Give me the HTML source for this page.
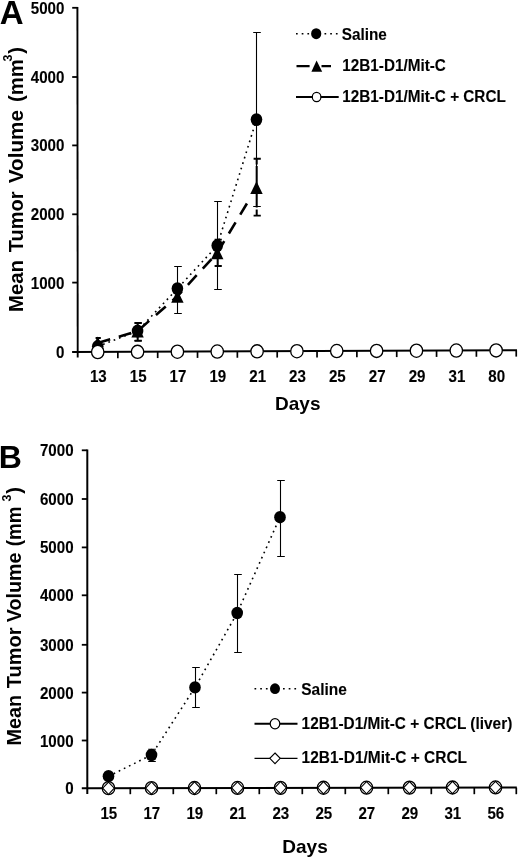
<!DOCTYPE html>
<html lang="en"><head><meta charset="utf-8"><title>Figure</title>
<style>html,body{margin:0;padding:0;background:#fff;}body{width:520px;height:858px;overflow:hidden;}svg{display:block;}text{font-family:"Liberation Sans", Arial, Helvetica, sans-serif;font-weight:bold;fill:#000;}</style>
</head><body>
<svg width="520" height="858" viewBox="0 0 520 858">
<defs><filter id="soft" x="0" y="0" width="520" height="858" filterUnits="userSpaceOnUse"><feGaussianBlur stdDeviation="0.32"/></filter></defs>
<rect width="520" height="858" fill="#fff"/>
<g filter="url(#soft)">
<!-- panel A -->
<text x="-0.3" y="23.6" font-size="33">A</text>
<line x1="77.4" y1="6.9" x2="77.7" y2="357.5" stroke="#000" stroke-width="1.9"/>
<line x1="72.1" y1="352.1" x2="517" y2="350.3" stroke="#000" stroke-width="2"/>
<text transform="translate(64.4,358) scale(0.89,1)" font-size="17.0" text-anchor="end" stroke="#000" stroke-width="0.12">0</text>
<line x1="72.2" y1="282.6" x2="77.7" y2="282.6" stroke="#000" stroke-width="1.8"/>
<text transform="translate(64.4,288.6) scale(0.89,1)" font-size="17.0" text-anchor="end" stroke="#000" stroke-width="0.12">1000</text>
<line x1="72.2" y1="214.3" x2="77.7" y2="214.3" stroke="#000" stroke-width="1.8"/>
<text transform="translate(64.4,220.3) scale(0.89,1)" font-size="17.0" text-anchor="end" stroke="#000" stroke-width="0.12">2000</text>
<line x1="72.2" y1="145.4" x2="77.7" y2="145.4" stroke="#000" stroke-width="1.8"/>
<text transform="translate(64.4,151.4) scale(0.89,1)" font-size="17.0" text-anchor="end" stroke="#000" stroke-width="0.12">3000</text>
<line x1="72.2" y1="77" x2="77.7" y2="77" stroke="#000" stroke-width="1.8"/>
<text transform="translate(64.4,83) scale(0.89,1)" font-size="17.0" text-anchor="end" stroke="#000" stroke-width="0.12">4000</text>
<line x1="72.2" y1="7.8" x2="77.7" y2="7.8" stroke="#000" stroke-width="1.8"/>
<text transform="translate(64.4,13.8) scale(0.89,1)" font-size="17.0" text-anchor="end" stroke="#000" stroke-width="0.12">5000</text>
<line x1="117.84" y1="351.94" x2="117.84" y2="358.24" stroke="#000" stroke-width="1.7"/>
<line x1="157.68" y1="351.77" x2="157.68" y2="358.07" stroke="#000" stroke-width="1.7"/>
<line x1="197.52" y1="351.61" x2="197.52" y2="357.91" stroke="#000" stroke-width="1.7"/>
<line x1="237.36" y1="351.45" x2="237.36" y2="357.75" stroke="#000" stroke-width="1.7"/>
<line x1="277.2" y1="351.28" x2="277.2" y2="357.58" stroke="#000" stroke-width="1.7"/>
<line x1="317.04" y1="351.12" x2="317.04" y2="357.42" stroke="#000" stroke-width="1.7"/>
<line x1="356.88" y1="350.96" x2="356.88" y2="357.26" stroke="#000" stroke-width="1.7"/>
<line x1="396.72" y1="350.79" x2="396.72" y2="357.09" stroke="#000" stroke-width="1.7"/>
<line x1="436.56" y1="350.63" x2="436.56" y2="356.93" stroke="#000" stroke-width="1.7"/>
<line x1="476.4" y1="350.47" x2="476.4" y2="356.77" stroke="#000" stroke-width="1.7"/>
<line x1="516.24" y1="350.31" x2="516.24" y2="356.61" stroke="#000" stroke-width="1.7"/>
<text transform="translate(98.32,382.2) scale(0.89,1)" font-size="17.0" text-anchor="middle" stroke="#000" stroke-width="0.12">13</text>
<text transform="translate(138.16,382.2) scale(0.89,1)" font-size="17.0" text-anchor="middle" stroke="#000" stroke-width="0.12">15</text>
<text transform="translate(178,382.2) scale(0.89,1)" font-size="17.0" text-anchor="middle" stroke="#000" stroke-width="0.12">17</text>
<text transform="translate(217.84,382.2) scale(0.89,1)" font-size="17.0" text-anchor="middle" stroke="#000" stroke-width="0.12">19</text>
<text transform="translate(257.68,382.2) scale(0.89,1)" font-size="17.0" text-anchor="middle" stroke="#000" stroke-width="0.12">21</text>
<text transform="translate(297.52,382.2) scale(0.89,1)" font-size="17.0" text-anchor="middle" stroke="#000" stroke-width="0.12">23</text>
<text transform="translate(337.36,382.2) scale(0.89,1)" font-size="17.0" text-anchor="middle" stroke="#000" stroke-width="0.12">25</text>
<text transform="translate(377.2,382.2) scale(0.89,1)" font-size="17.0" text-anchor="middle" stroke="#000" stroke-width="0.12">27</text>
<text transform="translate(417.04,382.2) scale(0.89,1)" font-size="17.0" text-anchor="middle" stroke="#000" stroke-width="0.12">29</text>
<text transform="translate(456.88,382.2) scale(0.89,1)" font-size="17.0" text-anchor="middle" stroke="#000" stroke-width="0.12">31</text>
<text transform="translate(496.72,382.2) scale(0.89,1)" font-size="17.0" text-anchor="middle" stroke="#000" stroke-width="0.12">80</text>
<text x="297.8" y="409.5" font-size="19" text-anchor="middle">Days</text>
<text transform="translate(23,312) rotate(-90)" font-size="20" textLength="52.0" lengthAdjust="spacingAndGlyphs">Mean</text>
<text transform="translate(23,252.2) rotate(-90)" font-size="20">Tumor</text>
<text transform="translate(23,183.2) rotate(-90)" font-size="20" textLength="73.2" lengthAdjust="spacingAndGlyphs">Volume</text>
<text transform="translate(23,102) rotate(-90)" font-size="20" textLength="42.8" lengthAdjust="spacingAndGlyphs">(mm</text>
<text transform="translate(12.2,61.6) rotate(-90)" font-size="12.5">3</text>
<text transform="translate(23,53.8) rotate(-90)" font-size="20">)</text>
<polyline points="97.72,346.5 137.56,331 177.4,288.6 217.24,245.6 256.48,119.6" fill="none" stroke="#000" stroke-width="1.6" stroke-dasharray="1.7 4.0"/>
<polyline points="97.72,343 137.56,331 177.4,296.3 217.24,252.8 250.81,197.02" fill="none" stroke="#000" stroke-width="2.6" stroke-dasharray="13 9"/>
<path d="M137.5 323V340.7" stroke="#000" stroke-width="1.1" fill="none"/>
<path d="M134.2 323H141.8M134.2 340.7H141.8" stroke="#000" stroke-width="1.1" fill="none"/>
<path d="M177.5 266.5V313.5" stroke="#000" stroke-width="1.1" fill="none"/>
<path d="M174.2 266.5H181.8M174.2 313.5H181.8" stroke="#000" stroke-width="1.1" fill="none"/>
<path d="M217.5 201.5V289.5" stroke="#000" stroke-width="1.1" fill="none"/>
<path d="M214.2 201.5H221.8M214.2 289.5H221.8" stroke="#000" stroke-width="1.1" fill="none"/>
<path d="M256.5 32.5V206.5" stroke="#000" stroke-width="1.1" fill="none"/>
<path d="M253.2 32.5H260.8M253.2 206.5H260.8" stroke="#000" stroke-width="1.1" fill="none"/>
<path d="M97.7 338V348" stroke="#000" stroke-width="2.0" fill="none"/>
<path d="M95.6 338H100.8M95.6 348H100.8" stroke="#000" stroke-width="1.9" fill="none"/>
<path d="M137.7 323V340.7" stroke="#000" stroke-width="2.0" fill="none"/>
<path d="M134.6 323H141.8M134.6 340.7H141.8" stroke="#000" stroke-width="1.9" fill="none"/>
<path d="M217.7 239.6V266" stroke="#000" stroke-width="2.0" fill="none"/>
<path d="M214.6 239.6H221.8M214.6 266H221.8" stroke="#000" stroke-width="1.9" fill="none"/>
<path d="M256.7 158.8V164.6M256.7 166.0V207.6M256.7 209.4V215.6" stroke="#000" stroke-width="2.0" fill="none"/>
<path d="M253.6 158.8H260.8M253.6 215.6H260.8" stroke="#000" stroke-width="1.9" fill="none"/>
<polygon points="97.72,336.6 91.52,349.4 103.92,349.4" fill="#000"/>
<polygon points="137.56,324.6 131.36,337.4 143.76,337.4" fill="#000"/>
<polygon points="177.4,289.9 171.2,302.7 183.6,302.7" fill="#000"/>
<polygon points="217.24,246.4 211.04,259.2 223.44,259.2" fill="#000"/>
<polygon points="256.48,181.2 250.28,194 262.68,194" fill="#000"/>
<ellipse cx="97.72" cy="346.5" rx="5.8" ry="6.4" fill="#000"/>
<ellipse cx="137.56" cy="331" rx="5.8" ry="6.4" fill="#000"/>
<ellipse cx="177.4" cy="288.6" rx="5.8" ry="6.4" fill="#000"/>
<ellipse cx="217.24" cy="245.6" rx="5.8" ry="6.4" fill="#000"/>
<ellipse cx="256.48" cy="119.6" rx="5.8" ry="6.4" fill="#000"/>
<ellipse cx="97.72" cy="352.02" rx="6.2" ry="6.6" fill="#fff" stroke="#000" stroke-width="1.3"/>
<ellipse cx="137.56" cy="351.86" rx="6.2" ry="6.6" fill="#fff" stroke="#000" stroke-width="1.3"/>
<ellipse cx="177.4" cy="351.69" rx="6.2" ry="6.6" fill="#fff" stroke="#000" stroke-width="1.3"/>
<ellipse cx="217.24" cy="351.53" rx="6.2" ry="6.6" fill="#fff" stroke="#000" stroke-width="1.3"/>
<ellipse cx="257.08" cy="351.37" rx="6.2" ry="6.6" fill="#fff" stroke="#000" stroke-width="1.3"/>
<ellipse cx="296.92" cy="351.2" rx="6.2" ry="6.6" fill="#fff" stroke="#000" stroke-width="1.3"/>
<ellipse cx="336.76" cy="351.04" rx="6.2" ry="6.6" fill="#fff" stroke="#000" stroke-width="1.3"/>
<ellipse cx="376.6" cy="350.88" rx="6.2" ry="6.6" fill="#fff" stroke="#000" stroke-width="1.3"/>
<ellipse cx="416.44" cy="350.71" rx="6.2" ry="6.6" fill="#fff" stroke="#000" stroke-width="1.3"/>
<ellipse cx="456.28" cy="350.55" rx="6.2" ry="6.6" fill="#fff" stroke="#000" stroke-width="1.3"/>
<ellipse cx="496.12" cy="350.39" rx="6.2" ry="6.6" fill="#fff" stroke="#000" stroke-width="1.3"/>
<line x1="296" y1="33.7" x2="338" y2="33.7" stroke="#000" stroke-width="1.6" stroke-dasharray="1.7 4.0"/>
<ellipse cx="316.2" cy="33.7" rx="5.1" ry="5.5" fill="#000"/>
<text transform="translate(341.8,39.6) scale(0.9,1)" font-size="17.0" stroke="#000" stroke-width="0.12">Saline</text>
<path d="M296.5 66.2H309.6M321.5 66.2H331" stroke="#000" stroke-width="2.2"/>
<polygon points="316.6,60.5 311.4,71.8 322.2,71.8" fill="#000"/>
<text transform="translate(342.3,71.1) scale(0.9,1)" font-size="17.0" stroke="#000" stroke-width="0.12">12B1-D1/Mit-C</text>
<line x1="296" y1="97" x2="338.7" y2="97" stroke="#000" stroke-width="1.9"/>
<ellipse cx="316.6" cy="97" rx="4.3" ry="4.6" fill="#fff" stroke="#000" stroke-width="1.2"/>
<text transform="translate(342.3,101.9) scale(0.9,1)" font-size="17.0" stroke="#000" stroke-width="0.12">12B1-D1/Mit-C + CRCL</text>
<!-- panel B -->
<text x="-1.2" y="468" font-size="32">B</text>
<line x1="87.3" y1="449.40000000000003" x2="87.3" y2="794.0" stroke="#000" stroke-width="2"/>
<line x1="81.8" y1="788.2" x2="516.8" y2="787.4000000000001" stroke="#000" stroke-width="2"/>
<text transform="translate(73.6,794.2) scale(0.89,1)" font-size="17.0" text-anchor="end" stroke="#000" stroke-width="0.12">0</text>
<line x1="81.8" y1="740.5" x2="87.3" y2="740.5" stroke="#000" stroke-width="1.8"/>
<text transform="translate(73.6,746.5) scale(0.89,1)" font-size="17.0" text-anchor="end" stroke="#000" stroke-width="0.12">1000</text>
<line x1="81.8" y1="692.6" x2="87.3" y2="692.6" stroke="#000" stroke-width="1.8"/>
<text transform="translate(73.6,698.6) scale(0.89,1)" font-size="17.0" text-anchor="end" stroke="#000" stroke-width="0.12">2000</text>
<line x1="81.8" y1="644.8" x2="87.3" y2="644.8" stroke="#000" stroke-width="1.8"/>
<text transform="translate(73.6,650.8) scale(0.89,1)" font-size="17.0" text-anchor="end" stroke="#000" stroke-width="0.12">3000</text>
<line x1="81.8" y1="595.3" x2="87.3" y2="595.3" stroke="#000" stroke-width="1.8"/>
<text transform="translate(73.6,601.3) scale(0.89,1)" font-size="17.0" text-anchor="end" stroke="#000" stroke-width="0.12">4000</text>
<line x1="81.8" y1="547.4" x2="87.3" y2="547.4" stroke="#000" stroke-width="1.8"/>
<text transform="translate(73.6,553.4) scale(0.89,1)" font-size="17.0" text-anchor="end" stroke="#000" stroke-width="0.12">5000</text>
<line x1="81.8" y1="499" x2="87.3" y2="499" stroke="#000" stroke-width="1.8"/>
<text transform="translate(73.6,505) scale(0.89,1)" font-size="17.0" text-anchor="end" stroke="#000" stroke-width="0.12">6000</text>
<line x1="81.8" y1="450.3" x2="87.3" y2="450.3" stroke="#000" stroke-width="1.8"/>
<text transform="translate(73.6,456.3) scale(0.89,1)" font-size="17.0" text-anchor="end" stroke="#000" stroke-width="0.12">7000</text>
<line x1="130.3" y1="787.7" x2="130.3" y2="794.2" stroke="#000" stroke-width="1.7"/>
<line x1="173.3" y1="787.7" x2="173.3" y2="794.2" stroke="#000" stroke-width="1.7"/>
<line x1="216.3" y1="787.7" x2="216.3" y2="794.2" stroke="#000" stroke-width="1.7"/>
<line x1="259.3" y1="787.7" x2="259.3" y2="794.2" stroke="#000" stroke-width="1.7"/>
<line x1="302.3" y1="787.7" x2="302.3" y2="794.2" stroke="#000" stroke-width="1.7"/>
<line x1="345.3" y1="787.7" x2="345.3" y2="794.2" stroke="#000" stroke-width="1.7"/>
<line x1="388.3" y1="787.7" x2="388.3" y2="794.2" stroke="#000" stroke-width="1.7"/>
<line x1="431.3" y1="787.7" x2="431.3" y2="794.2" stroke="#000" stroke-width="1.7"/>
<line x1="474.3" y1="787.7" x2="474.3" y2="794.2" stroke="#000" stroke-width="1.7"/>
<line x1="516.3" y1="787.7" x2="516.3" y2="794.2" stroke="#000" stroke-width="1.7"/>
<text transform="translate(108.8,819.4) scale(0.89,1)" font-size="17.0" text-anchor="middle" stroke="#000" stroke-width="0.12">15</text>
<text transform="translate(151.8,819.4) scale(0.89,1)" font-size="17.0" text-anchor="middle" stroke="#000" stroke-width="0.12">17</text>
<text transform="translate(194.8,819.4) scale(0.89,1)" font-size="17.0" text-anchor="middle" stroke="#000" stroke-width="0.12">19</text>
<text transform="translate(237.8,819.4) scale(0.89,1)" font-size="17.0" text-anchor="middle" stroke="#000" stroke-width="0.12">21</text>
<text transform="translate(280.8,819.4) scale(0.89,1)" font-size="17.0" text-anchor="middle" stroke="#000" stroke-width="0.12">23</text>
<text transform="translate(323.8,819.4) scale(0.89,1)" font-size="17.0" text-anchor="middle" stroke="#000" stroke-width="0.12">25</text>
<text transform="translate(366.8,819.4) scale(0.89,1)" font-size="17.0" text-anchor="middle" stroke="#000" stroke-width="0.12">27</text>
<text transform="translate(409.8,819.4) scale(0.89,1)" font-size="17.0" text-anchor="middle" stroke="#000" stroke-width="0.12">29</text>
<text transform="translate(452.8,819.4) scale(0.89,1)" font-size="17.0" text-anchor="middle" stroke="#000" stroke-width="0.12">31</text>
<text transform="translate(495.8,819.4) scale(0.89,1)" font-size="17.0" text-anchor="middle" stroke="#000" stroke-width="0.12">56</text>
<text x="305" y="852.8" font-size="19" text-anchor="middle">Days</text>
<text transform="translate(21.3,745.4) rotate(-90)" font-size="20" textLength="50.6" lengthAdjust="spacingAndGlyphs">Mean</text>
<text transform="translate(21.3,688.2) rotate(-90)" font-size="20">Tumor</text>
<text transform="translate(21.3,622.2) rotate(-90)" font-size="20" textLength="69.8" lengthAdjust="spacingAndGlyphs">Volume</text>
<text transform="translate(21.3,546.2) rotate(-90)" font-size="20" textLength="39.8" lengthAdjust="spacingAndGlyphs">(mm</text>
<text transform="translate(10.7,501.5) rotate(-90)" font-size="12.5">3</text>
<text transform="translate(21.3,493.8) rotate(-90)" font-size="20">)</text>
<polyline points="108.5,776.2 151.5,755 195,687.4 237.2,613 280,517.2" fill="none" stroke="#000" stroke-width="1.6" stroke-dasharray="1.7 4.0"/>
<path d="M151.5 749.2V761.5" stroke="#000" stroke-width="1.1" fill="none"/>
<path d="M148.2 749.2H155.8M148.2 761.5H155.8" stroke="#000" stroke-width="1.1" fill="none"/>
<path d="M195.5 667.5V707.5" stroke="#000" stroke-width="1.1" fill="none"/>
<path d="M192.2 667.5H199.8M192.2 707.5H199.8" stroke="#000" stroke-width="1.1" fill="none"/>
<path d="M237.5 574.5V652.5" stroke="#000" stroke-width="1.1" fill="none"/>
<path d="M234.2 574.5H241.8M234.2 652.5H241.8" stroke="#000" stroke-width="1.1" fill="none"/>
<path d="M280.5 480.5V556.5" stroke="#000" stroke-width="1.1" fill="none"/>
<path d="M277.2 480.5H284.8M277.2 556.5H284.8" stroke="#000" stroke-width="1.1" fill="none"/>
<ellipse cx="108.5" cy="776.2" rx="5.8" ry="6.2" fill="#000"/>
<ellipse cx="151.5" cy="755" rx="5.8" ry="6.2" fill="#000"/>
<ellipse cx="195" cy="687.4" rx="5.8" ry="6.2" fill="#000"/>
<ellipse cx="237.2" cy="613" rx="5.8" ry="6.2" fill="#000"/>
<ellipse cx="280" cy="517.2" rx="5.8" ry="6.2" fill="#000"/>
<ellipse cx="108.5" cy="788.16" rx="6.2" ry="6.5" fill="#fff" stroke="#000" stroke-width="1.3"/>
<polygon points="108.5,782.06 114.3,788.16 108.5,794.26 102.7,788.16" fill="#fff" stroke="#000" stroke-width="1.1"/>
<ellipse cx="151.5" cy="788.08" rx="6.2" ry="6.5" fill="#fff" stroke="#000" stroke-width="1.3"/>
<polygon points="151.5,781.98 157.3,788.08 151.5,794.18 145.7,788.08" fill="#fff" stroke="#000" stroke-width="1.1"/>
<ellipse cx="194.5" cy="788" rx="6.2" ry="6.5" fill="#fff" stroke="#000" stroke-width="1.3"/>
<polygon points="194.5,781.9 200.3,788 194.5,794.1 188.7,788" fill="#fff" stroke="#000" stroke-width="1.1"/>
<ellipse cx="237.5" cy="787.92" rx="6.2" ry="6.5" fill="#fff" stroke="#000" stroke-width="1.3"/>
<polygon points="237.5,781.82 243.3,787.92 237.5,794.02 231.7,787.92" fill="#fff" stroke="#000" stroke-width="1.1"/>
<ellipse cx="280.5" cy="787.84" rx="6.2" ry="6.5" fill="#fff" stroke="#000" stroke-width="1.3"/>
<polygon points="280.5,781.74 286.3,787.84 280.5,793.94 274.7,787.84" fill="#fff" stroke="#000" stroke-width="1.1"/>
<ellipse cx="323.5" cy="787.76" rx="6.2" ry="6.5" fill="#fff" stroke="#000" stroke-width="1.3"/>
<polygon points="323.5,781.66 329.3,787.76 323.5,793.86 317.7,787.76" fill="#fff" stroke="#000" stroke-width="1.1"/>
<ellipse cx="366.5" cy="787.68" rx="6.2" ry="6.5" fill="#fff" stroke="#000" stroke-width="1.3"/>
<polygon points="366.5,781.58 372.3,787.68 366.5,793.78 360.7,787.68" fill="#fff" stroke="#000" stroke-width="1.1"/>
<ellipse cx="409.5" cy="787.6" rx="6.2" ry="6.5" fill="#fff" stroke="#000" stroke-width="1.3"/>
<polygon points="409.5,781.5 415.3,787.6 409.5,793.7 403.7,787.6" fill="#fff" stroke="#000" stroke-width="1.1"/>
<ellipse cx="452.5" cy="787.52" rx="6.2" ry="6.5" fill="#fff" stroke="#000" stroke-width="1.3"/>
<polygon points="452.5,781.42 458.3,787.52 452.5,793.62 446.7,787.52" fill="#fff" stroke="#000" stroke-width="1.1"/>
<ellipse cx="495.5" cy="787.44" rx="6.2" ry="6.5" fill="#fff" stroke="#000" stroke-width="1.3"/>
<polygon points="495.5,781.34 501.3,787.44 495.5,793.54 489.7,787.44" fill="#fff" stroke="#000" stroke-width="1.1"/>
<line x1="254.5" y1="688.7" x2="298.5" y2="688.7" stroke="#000" stroke-width="1.6" stroke-dasharray="1.7 4.0"/>
<ellipse cx="275" cy="688.7" rx="5.0" ry="5.4" fill="#000"/>
<text transform="translate(301.3,694.6) scale(0.91,1)" font-size="17.0" stroke="#000" stroke-width="0.12">Saline</text>
<line x1="254.5" y1="723.7" x2="297.5" y2="723.7" stroke="#000" stroke-width="1.9"/>
<ellipse cx="275" cy="723.7" rx="4.8" ry="5.1" fill="#fff" stroke="#000" stroke-width="1.2"/>
<text transform="translate(301.6,728.9) scale(0.906,1)" font-size="17.0" stroke="#000" stroke-width="0.12">12B1-D1/Mit-C + CRCL (liver)</text>
<line x1="254.5" y1="758.3" x2="297.5" y2="758.3" stroke="#000" stroke-width="1.2"/>
<polygon points="275,753 280.2,758.3 275,763.6 269.8,758.3" fill="#fff" stroke="#000" stroke-width="1.1"/>
<text transform="translate(301.6,763.1) scale(0.91,1)" font-size="17.0" stroke="#000" stroke-width="0.12">12B1-D1/Mit-C + CRCL</text>
</g>
</svg></body></html>
